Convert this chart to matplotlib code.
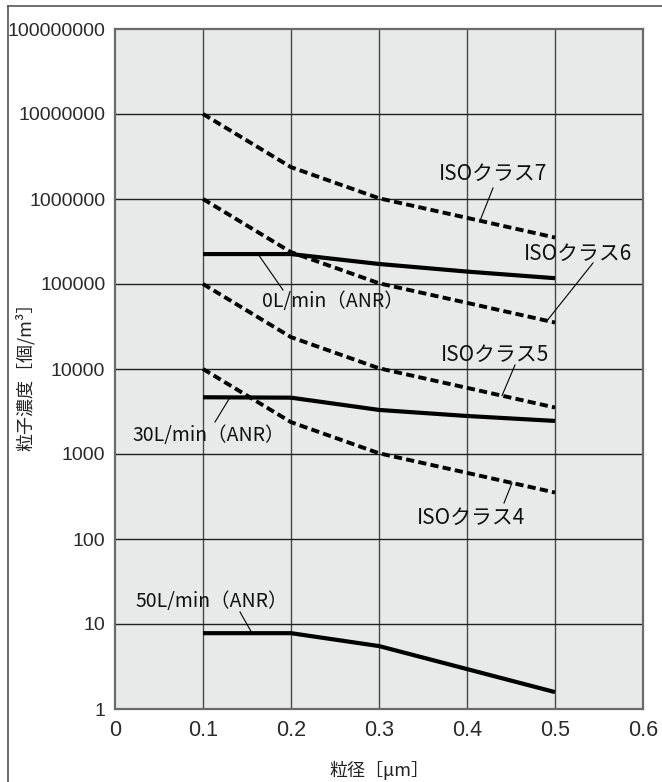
import numpy as np
import matplotlib
matplotlib.use("Agg")
import matplotlib.pyplot as plt
from matplotlib.lines import Line2D

plt.rcParams['font.family'] = ['Noto Sans CJK JP', 'DejaVu Sans']

# ---- data ----
sizes = [0.1, 0.2, 0.3, 0.4, 0.5]
iso7 = [10000000, 2370000, 1020000, 600000, 352000]
iso6 = [1000000, 237000, 102000, 60000, 35200]
iso5 = [100000, 23700, 10200, 6000, 3520]
iso4 = [10000, 2370, 1020, 600, 352]
flow0 = [225000, 225000, 172000, 140000, 117000]
flow30 = [4650, 4600, 3300, 2800, 2450]
flow50 = [7.8, 7.8, 5.5, 2.95, 1.58]

iso_labels = ["ISOクラス7", "ISOクラス6", "ISOクラス5", "ISOクラス4"]
flow_labels = ["0L/min（ANR）", "30L/min（ANR）", "50L/min（ANR）"]

x_ticks = [0, 0.1, 0.2, 0.3, 0.4, 0.5, 0.6]
x_ticklabels = ["0", "0.1", "0.2", "0.3", "0.4", "0.5", "0.6"]
y_ticks = [1, 10, 100, 1000, 10000, 100000, 1000000, 10000000, 100000000]
y_ticklabels = ["1", "10", "100", "1000", "10000", "100000", "1000000", "10000000", "100000000"]
x_label = "粒径［μm］"
y_label = "粒子濃度［個/m³］"

W, H = 662, 782
fig = plt.figure(figsize=(W / 100, H / 100), dpi=100)
fig.patch.set_facecolor('white')

L, R, T, B = 115, 643, 29, 709
ax = fig.add_axes([L / W, 1 - B / H, (R - L) / W, (B - T) / H])
ax.set_facecolor('#e8e9e9')
ax.set_yscale('log')
ax.set_xlim(0, 0.6)
ax.set_ylim(1, 1e8)

# grid
for xv in x_ticks[1:-1]:
    ax.axvline(xv, color='#4a4a4a', lw=1.0, zorder=1)
for yv in y_ticks[1:-1]:
    ax.axhline(yv, color='#202020', lw=1.0, zorder=1)

for s in ax.spines.values():
    s.set_color('#6a6a6a')
    s.set_linewidth(1.6)

ax.set_xticks(x_ticks)
ax.set_xticklabels(x_ticklabels, family=['Liberation Sans', 'DejaVu Sans'], fontsize=15.5, color='#2a2a2a')
ax.set_yticks(y_ticks)
ax.set_yticklabels(y_ticklabels, family=['Liberation Sans Narrow', 'Liberation Sans', 'DejaVu Sans'],
                   fontsize=14, color='#2a2a2a')
ax.yaxis.set_minor_locator(matplotlib.ticker.NullLocator())
ax.tick_params(axis='both', length=0)
ax.tick_params(axis='y', pad=7)
ax.tick_params(axis='x', pad=8)

# curves
for ser in [iso7, iso6, iso5, iso4]:
    ax.plot(sizes, ser, color='black', lw=2.8, dashes=(2.1, 1.1), solid_capstyle='butt',
            dash_capstyle='butt', zorder=3)
for ser in [flow0, flow30, flow50]:
    ax.plot(sizes, ser, color='black', lw=3.0, solid_capstyle='butt', zorder=4)

def px2x(px):
    return (px - L) / 880.0

def px2y(py):
    return 10 ** ((B - py) / 85.0)

def on_curve(xv, ser):
    return 10 ** np.interp(xv, sizes, np.log10(ser))

# label center px, leader start px (near text), leader end x px (on curve)
ann = [
    (iso_labels[0], iso7, (493, 174), (493, 188), 480, 15),
    (iso_labels[1], iso6, (578, 254), (593, 263), 547, 15),
    (flow_labels[0], flow0, (333, 302), (283, 290), 258, 14),
    (iso_labels[2], iso5, (495, 355), (515, 365), 502, 15),
    (flow_labels[1], flow30, (209, 435), (215, 422), 230, 14),
    (iso_labels[3], iso4, (471, 518), (504, 503), 512, 15),
    (flow_labels[2], flow50, (212, 601), (240, 612), 252, 14),
]
for text, ser, (cx, cy), (sx, sy), ex, fs in ann:
    ax.text(px2x(cx), px2y(cy), text, ha='center', va='center', fontsize=fs,
            color='#111111', zorder=5)
    xe = px2x(ex)
    ax.plot([px2x(sx), xe], [px2y(sy), on_curve(xe, ser)], color='black', lw=0.8, zorder=5)

fig.text(379 / W, 1 - 770 / H, x_label, ha='center', va='center', fontsize=13, color='#222222')
fig.text(25 / W, 1 - 372 / H, y_label, ha='center', va='center', rotation=90, fontsize=13,
         color='#222222')

# outer frame (left and top visible)
fig.add_artist(Line2D([8 / W, 8 / W], [0, 1 - 6 / H], transform=fig.transFigure, color='#555555', lw=1.2))
fig.add_artist(Line2D([8 / W, 1], [1 - 6 / H, 1 - 6 / H], transform=fig.transFigure, color='#555555', lw=1.2))

fig.savefig('out.png', dpi=100)
